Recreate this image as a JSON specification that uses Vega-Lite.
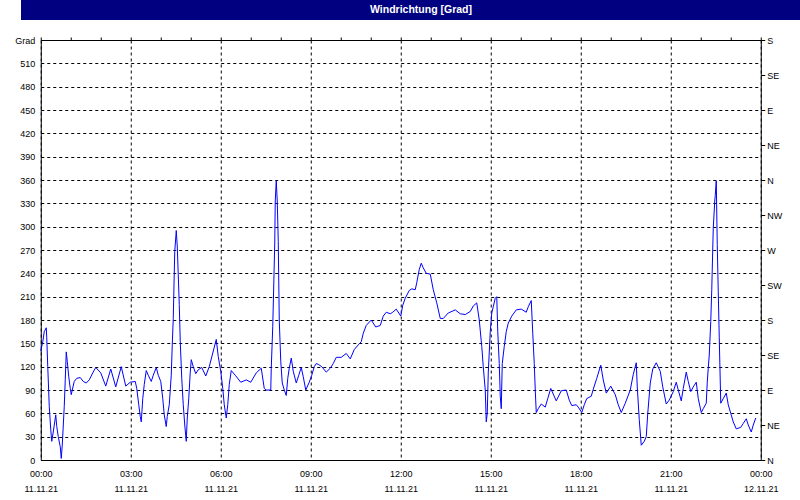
{
  "$schema": "https://vega.github.io/schema/vega-lite/v6.json",
  "background": "white",
  "padding": 0,
  "spacing": 15,
  "center": true,
  "config": {
    "view": {"stroke": null},
    "axis": {"labelFont": "Liberation Sans", "labelFontSize": 9, "labelColor": "black", "domain": false}
  },
  "vconcat": [
    {
      "width": 800,
      "height": 20,
      "data": {"values": [{"title": "Windrichtung [Grad]"}]},
      "layer": [
        {"mark": {"type": "rect", "color": "#000080"}, "encoding": {}},
        {"mark": {"type": "text", "color": "white", "font": "Liberation Sans", "fontSize": 10.5, "fontWeight": "bold", "align": "center", "baseline": "middle"},
         "encoding": {"text": {"field": "title"}}}
      ]
    },
    {
      "width": 720,
      "height": 420,
      "view": {"stroke": "black", "strokeWidth": 1},
      "data": {"values": [
        {"t": "2021-11-11T00:00", "v": 140}, {"t": "2021-11-11T00:04", "v": 152}, {"t": "2021-11-11T00:07", "v": 165}, {"t": "2021-11-11T00:11", "v": 170},
        {"t": "2021-11-11T00:12", "v": 157}, {"t": "2021-11-11T00:14", "v": 120}, {"t": "2021-11-11T00:17", "v": 69}, {"t": "2021-11-11T00:20", "v": 39},
        {"t": "2021-11-11T00:22", "v": 24}, {"t": "2021-11-11T00:25", "v": 36}, {"t": "2021-11-11T00:30", "v": 58}, {"t": "2021-11-11T00:32", "v": 43},
        {"t": "2021-11-11T00:35", "v": 30}, {"t": "2021-11-11T00:39", "v": 17}, {"t": "2021-11-11T00:41", "v": 2}, {"t": "2021-11-11T00:43", "v": 19},
        {"t": "2021-11-11T00:47", "v": 69}, {"t": "2021-11-11T00:49", "v": 103}, {"t": "2021-11-11T00:51", "v": 139}, {"t": "2021-11-11T00:53", "v": 127},
        {"t": "2021-11-11T00:56", "v": 107}, {"t": "2021-11-11T00:59", "v": 92}, {"t": "2021-11-11T01:01", "v": 84}, {"t": "2021-11-11T01:03", "v": 90},
        {"t": "2021-11-11T01:07", "v": 101}, {"t": "2021-11-11T01:12", "v": 105}, {"t": "2021-11-11T01:19", "v": 106}, {"t": "2021-11-11T01:25", "v": 101},
        {"t": "2021-11-11T01:31", "v": 99}, {"t": "2021-11-11T01:37", "v": 103}, {"t": "2021-11-11T01:44", "v": 112}, {"t": "2021-11-11T01:50", "v": 119},
        {"t": "2021-11-11T02:00", "v": 112}, {"t": "2021-11-11T02:10", "v": 95}, {"t": "2021-11-11T02:20", "v": 117}, {"t": "2021-11-11T02:30", "v": 94},
        {"t": "2021-11-11T02:41", "v": 120}, {"t": "2021-11-11T02:50", "v": 95}, {"t": "2021-11-11T02:59", "v": 100}, {"t": "2021-11-11T03:09", "v": 101},
        {"t": "2021-11-11T03:12", "v": 92}, {"t": "2021-11-11T03:16", "v": 71}, {"t": "2021-11-11T03:19", "v": 56}, {"t": "2021-11-11T03:21", "v": 49},
        {"t": "2021-11-11T03:24", "v": 79}, {"t": "2021-11-11T03:27", "v": 97}, {"t": "2021-11-11T03:31", "v": 115}, {"t": "2021-11-11T03:35", "v": 109},
        {"t": "2021-11-11T03:41", "v": 101}, {"t": "2021-11-11T03:45", "v": 109}, {"t": "2021-11-11T03:51", "v": 119}, {"t": "2021-11-11T03:55", "v": 109},
        {"t": "2021-11-11T04:00", "v": 101}, {"t": "2021-11-11T04:04", "v": 79}, {"t": "2021-11-11T04:07", "v": 58}, {"t": "2021-11-11T04:11", "v": 43},
        {"t": "2021-11-11T04:13", "v": 56}, {"t": "2021-11-11T04:17", "v": 71}, {"t": "2021-11-11T04:21", "v": 109}, {"t": "2021-11-11T04:23", "v": 148},
        {"t": "2021-11-11T04:25", "v": 182}, {"t": "2021-11-11T04:28", "v": 268}, {"t": "2021-11-11T04:31", "v": 295}, {"t": "2021-11-11T04:33", "v": 275},
        {"t": "2021-11-11T04:35", "v": 238}, {"t": "2021-11-11T04:37", "v": 200}, {"t": "2021-11-11T04:39", "v": 152}, {"t": "2021-11-11T04:42", "v": 105},
        {"t": "2021-11-11T04:45", "v": 71}, {"t": "2021-11-11T04:48", "v": 45}, {"t": "2021-11-11T04:51", "v": 24}, {"t": "2021-11-11T04:53", "v": 54},
        {"t": "2021-11-11T04:56", "v": 79}, {"t": "2021-11-11T04:59", "v": 113}, {"t": "2021-11-11T05:01", "v": 129}, {"t": "2021-11-11T05:05", "v": 120},
        {"t": "2021-11-11T05:10", "v": 111}, {"t": "2021-11-11T05:15", "v": 116}, {"t": "2021-11-11T05:22", "v": 119}, {"t": "2021-11-11T05:30", "v": 108},
        {"t": "2021-11-11T05:37", "v": 120}, {"t": "2021-11-11T05:43", "v": 135}, {"t": "2021-11-11T05:51", "v": 155}, {"t": "2021-11-11T05:55", "v": 133},
        {"t": "2021-11-11T06:00", "v": 114}, {"t": "2021-11-11T06:04", "v": 92}, {"t": "2021-11-11T06:07", "v": 71}, {"t": "2021-11-11T06:11", "v": 54},
        {"t": "2021-11-11T06:14", "v": 71}, {"t": "2021-11-11T06:17", "v": 97}, {"t": "2021-11-11T06:21", "v": 115}, {"t": "2021-11-11T06:29", "v": 109},
        {"t": "2021-11-11T06:40", "v": 100}, {"t": "2021-11-11T06:51", "v": 103}, {"t": "2021-11-11T07:00", "v": 100}, {"t": "2021-11-11T07:11", "v": 112},
        {"t": "2021-11-11T07:21", "v": 118}, {"t": "2021-11-11T07:27", "v": 92}, {"t": "2021-11-11T07:31", "v": 90}, {"t": "2021-11-11T07:40", "v": 90},
        {"t": "2021-11-11T07:41", "v": 118}, {"t": "2021-11-11T07:44", "v": 172}, {"t": "2021-11-11T07:46", "v": 225}, {"t": "2021-11-11T07:48", "v": 279},
        {"t": "2021-11-11T07:49", "v": 333}, {"t": "2021-11-11T07:51", "v": 359}, {"t": "2021-11-11T07:53", "v": 333}, {"t": "2021-11-11T07:55", "v": 281},
        {"t": "2021-11-11T07:56", "v": 230}, {"t": "2021-11-11T07:57", "v": 180}, {"t": "2021-11-11T08:00", "v": 127}, {"t": "2021-11-11T08:03", "v": 99},
        {"t": "2021-11-11T08:07", "v": 90}, {"t": "2021-11-11T08:11", "v": 83}, {"t": "2021-11-11T08:14", "v": 105}, {"t": "2021-11-11T08:17", "v": 118},
        {"t": "2021-11-11T08:21", "v": 131}, {"t": "2021-11-11T08:25", "v": 114}, {"t": "2021-11-11T08:31", "v": 99}, {"t": "2021-11-11T08:36", "v": 109},
        {"t": "2021-11-11T08:41", "v": 119}, {"t": "2021-11-11T08:45", "v": 107}, {"t": "2021-11-11T08:50", "v": 90}, {"t": "2021-11-11T08:57", "v": 100},
        {"t": "2021-11-11T09:02", "v": 109}, {"t": "2021-11-11T09:07", "v": 120}, {"t": "2021-11-11T09:11", "v": 124}, {"t": "2021-11-11T09:15", "v": 123},
        {"t": "2021-11-11T09:22", "v": 120}, {"t": "2021-11-11T09:31", "v": 113}, {"t": "2021-11-11T09:39", "v": 118}, {"t": "2021-11-11T09:45", "v": 124},
        {"t": "2021-11-11T09:51", "v": 132}, {"t": "2021-11-11T10:01", "v": 132}, {"t": "2021-11-11T10:11", "v": 137}, {"t": "2021-11-11T10:19", "v": 130},
        {"t": "2021-11-11T10:27", "v": 142}, {"t": "2021-11-11T10:35", "v": 148}, {"t": "2021-11-11T10:41", "v": 152}, {"t": "2021-11-11T10:45", "v": 163},
        {"t": "2021-11-11T10:51", "v": 173}, {"t": "2021-11-11T11:01", "v": 180}, {"t": "2021-11-11T11:10", "v": 171}, {"t": "2021-11-11T11:19", "v": 173},
        {"t": "2021-11-11T11:25", "v": 185}, {"t": "2021-11-11T11:31", "v": 190}, {"t": "2021-11-11T11:39", "v": 188}, {"t": "2021-11-11T11:44", "v": 190},
        {"t": "2021-11-11T11:51", "v": 194}, {"t": "2021-11-11T12:00", "v": 185}, {"t": "2021-11-11T12:04", "v": 199}, {"t": "2021-11-11T12:09", "v": 208},
        {"t": "2021-11-11T12:17", "v": 218}, {"t": "2021-11-11T12:22", "v": 220}, {"t": "2021-11-11T12:29", "v": 219}, {"t": "2021-11-11T12:32", "v": 228},
        {"t": "2021-11-11T12:37", "v": 245}, {"t": "2021-11-11T12:41", "v": 253}, {"t": "2021-11-11T12:45", "v": 247}, {"t": "2021-11-11T12:51", "v": 240},
        {"t": "2021-11-11T12:59", "v": 239}, {"t": "2021-11-11T13:05", "v": 219}, {"t": "2021-11-11T13:12", "v": 202}, {"t": "2021-11-11T13:19", "v": 182},
        {"t": "2021-11-11T13:25", "v": 182}, {"t": "2021-11-11T13:35", "v": 189}, {"t": "2021-11-11T13:49", "v": 193}, {"t": "2021-11-11T13:59", "v": 188},
        {"t": "2021-11-11T14:09", "v": 187}, {"t": "2021-11-11T14:19", "v": 191}, {"t": "2021-11-11T14:25", "v": 198}, {"t": "2021-11-11T14:32", "v": 202},
        {"t": "2021-11-11T14:37", "v": 180}, {"t": "2021-11-11T14:42", "v": 146}, {"t": "2021-11-11T14:45", "v": 120}, {"t": "2021-11-11T14:49", "v": 90},
        {"t": "2021-11-11T14:51", "v": 49}, {"t": "2021-11-11T14:53", "v": 60}, {"t": "2021-11-11T14:55", "v": 112}, {"t": "2021-11-11T14:59", "v": 165},
        {"t": "2021-11-11T15:02", "v": 189}, {"t": "2021-11-11T15:05", "v": 197}, {"t": "2021-11-11T15:09", "v": 208}, {"t": "2021-11-11T15:12", "v": 210},
        {"t": "2021-11-11T15:14", "v": 165}, {"t": "2021-11-11T15:17", "v": 124}, {"t": "2021-11-11T15:19", "v": 82}, {"t": "2021-11-11T15:21", "v": 66},
        {"t": "2021-11-11T15:23", "v": 124}, {"t": "2021-11-11T15:27", "v": 146}, {"t": "2021-11-11T15:31", "v": 165}, {"t": "2021-11-11T15:35", "v": 176},
        {"t": "2021-11-11T15:42", "v": 185}, {"t": "2021-11-11T15:51", "v": 193}, {"t": "2021-11-11T16:01", "v": 194}, {"t": "2021-11-11T16:11", "v": 190},
        {"t": "2021-11-11T16:15", "v": 197}, {"t": "2021-11-11T16:21", "v": 205}, {"t": "2021-11-11T16:24", "v": 163}, {"t": "2021-11-11T16:27", "v": 124},
        {"t": "2021-11-11T16:29", "v": 90}, {"t": "2021-11-11T16:31", "v": 61}, {"t": "2021-11-11T16:35", "v": 66}, {"t": "2021-11-11T16:41", "v": 72},
        {"t": "2021-11-11T16:49", "v": 68}, {"t": "2021-11-11T16:54", "v": 79}, {"t": "2021-11-11T17:00", "v": 92}, {"t": "2021-11-11T17:11", "v": 76},
        {"t": "2021-11-11T17:21", "v": 89}, {"t": "2021-11-11T17:31", "v": 90}, {"t": "2021-11-11T17:37", "v": 77}, {"t": "2021-11-11T17:42", "v": 70},
        {"t": "2021-11-11T17:51", "v": 71}, {"t": "2021-11-11T17:55", "v": 68}, {"t": "2021-11-11T18:02", "v": 61}, {"t": "2021-11-11T18:07", "v": 71},
        {"t": "2021-11-11T18:12", "v": 79}, {"t": "2021-11-11T18:21", "v": 82}, {"t": "2021-11-11T18:25", "v": 91}, {"t": "2021-11-11T18:32", "v": 105},
        {"t": "2021-11-11T18:40", "v": 122}, {"t": "2021-11-11T18:45", "v": 103}, {"t": "2021-11-11T18:51", "v": 86}, {"t": "2021-11-11T18:55", "v": 90},
        {"t": "2021-11-11T19:00", "v": 95}, {"t": "2021-11-11T19:09", "v": 84}, {"t": "2021-11-11T19:15", "v": 71}, {"t": "2021-11-11T19:21", "v": 61},
        {"t": "2021-11-11T19:29", "v": 73}, {"t": "2021-11-11T19:39", "v": 90}, {"t": "2021-11-11T19:45", "v": 110}, {"t": "2021-11-11T19:51", "v": 125},
        {"t": "2021-11-11T19:53", "v": 94}, {"t": "2021-11-11T19:57", "v": 52}, {"t": "2021-11-11T20:01", "v": 19}, {"t": "2021-11-11T20:07", "v": 24},
        {"t": "2021-11-11T20:11", "v": 30}, {"t": "2021-11-11T20:14", "v": 60}, {"t": "2021-11-11T20:19", "v": 99}, {"t": "2021-11-11T20:24", "v": 117},
        {"t": "2021-11-11T20:31", "v": 125}, {"t": "2021-11-11T20:39", "v": 114}, {"t": "2021-11-11T20:44", "v": 94}, {"t": "2021-11-11T20:51", "v": 72},
        {"t": "2021-11-11T20:57", "v": 77}, {"t": "2021-11-11T21:05", "v": 88}, {"t": "2021-11-11T21:11", "v": 100}, {"t": "2021-11-11T21:15", "v": 90},
        {"t": "2021-11-11T21:21", "v": 76}, {"t": "2021-11-11T21:25", "v": 92}, {"t": "2021-11-11T21:31", "v": 113}, {"t": "2021-11-11T21:35", "v": 101},
        {"t": "2021-11-11T21:40", "v": 88}, {"t": "2021-11-11T21:45", "v": 94}, {"t": "2021-11-11T21:51", "v": 100}, {"t": "2021-11-11T21:55", "v": 79},
        {"t": "2021-11-11T22:01", "v": 61}, {"t": "2021-11-11T22:05", "v": 66}, {"t": "2021-11-11T22:11", "v": 73}, {"t": "2021-11-11T22:13", "v": 100},
        {"t": "2021-11-11T22:15", "v": 118}, {"t": "2021-11-11T22:17", "v": 135}, {"t": "2021-11-11T22:20", "v": 178}, {"t": "2021-11-11T22:22", "v": 219},
        {"t": "2021-11-11T22:25", "v": 298}, {"t": "2021-11-11T22:28", "v": 333}, {"t": "2021-11-11T22:29", "v": 340}, {"t": "2021-11-11T22:31", "v": 359},
        {"t": "2021-11-11T22:33", "v": 277}, {"t": "2021-11-11T22:35", "v": 217}, {"t": "2021-11-11T22:37", "v": 157}, {"t": "2021-11-11T22:40", "v": 73},
        {"t": "2021-11-11T22:45", "v": 79}, {"t": "2021-11-11T22:51", "v": 86}, {"t": "2021-11-11T22:55", "v": 71}, {"t": "2021-11-11T23:00", "v": 60},
        {"t": "2021-11-11T23:05", "v": 49}, {"t": "2021-11-11T23:11", "v": 40}, {"t": "2021-11-11T23:20", "v": 42}, {"t": "2021-11-11T23:25", "v": 47},
        {"t": "2021-11-11T23:31", "v": 53}, {"t": "2021-11-11T23:35", "v": 45}, {"t": "2021-11-11T23:41", "v": 36}, {"t": "2021-11-11T23:45", "v": 45},
        {"t": "2021-11-11T23:50", "v": 54}
      ]},
      "layer": [
        {
          "mark": {"type": "line", "color": "#0000ff", "strokeWidth": 1},
          "encoding": {
            "x": {"field": "t", "type": "temporal",
              "scale": {"domain": [{"year": 2021, "month": 11, "date": 11, "hours": 0}, {"year": 2021, "month": 11, "date": 12, "hours": 0}], "nice": false},
              "axis": {"title": null,
                "values": [
                  {"year": 2021, "month": 11, "date": 11, "hours": 0}, {"year": 2021, "month": 11, "date": 11, "hours": 3},
                  {"year": 2021, "month": 11, "date": 11, "hours": 6}, {"year": 2021, "month": 11, "date": 11, "hours": 9},
                  {"year": 2021, "month": 11, "date": 11, "hours": 12}, {"year": 2021, "month": 11, "date": 11, "hours": 15},
                  {"year": 2021, "month": 11, "date": 11, "hours": 18}, {"year": 2021, "month": 11, "date": 11, "hours": 21},
                  {"year": 2021, "month": 11, "date": 12, "hours": 0}],
                "grid": true, "gridColor": "black", "gridDash": [3, 3], "gridOpacity": 1, "gridWidth": 1,
                "ticks": false, "labelPadding": 9, "labelFlush": false, "labelOverlap": false, "labelLineHeight": 15,
                "labelExpr": "[timeFormat(datum.value, '%H:%M'), timeFormat(datum.value, '%d.%m.%y')]"}},
            "y": {"field": "v", "type": "quantitative",
              "scale": {"domain": [0, 540], "nice": false},
              "axis": {"title": null, "orient": "left", "values": [0, 30, 60, 90, 120, 150, 180, 210, 240, 270, 300, 330, 360, 390, 420, 450, 480, 510, 540],
                "grid": true, "gridColor": "black", "gridDash": [3, 3], "gridOpacity": 1, "gridWidth": 1,
                "ticks": false, "labelPadding": 6, "minExtent": 40, "maxExtent": 40, "labelFlush": false, "labelOverlap": false,
                "labelExpr": "datum.value == 540 ? 'Grad' : datum.label"}}
          }
        },
        {
          "mark": {"type": "line", "opacity": 0},
          "encoding": {
            "x": {"field": "t", "type": "temporal",
              "axis": {"title": null, "tickCount": 24, "grid": false, "labels": false, "ticks": true, "tickSize": 3, "tickColor": "black", "tickWidth": 1}},
            "y": {"field": "v", "type": "quantitative",
              "axis": {"title": null, "orient": "right", "values": [0, 45, 90, 135, 180, 225, 270, 315, 360, 405, 450, 495, 540],
                "grid": false, "ticks": true, "tickSize": 4, "tickColor": "black", "labelPadding": 2, "minExtent": 40, "maxExtent": 40, "labelFlush": false, "labelOverlap": false,
                "labelExpr": "['N','NE','E','SE','S','SW','W','NW'][(datum.value / 45) % 8]"}}
          }
        }
      ],
      "resolve": {"axis": {"x": "independent", "y": "independent"}}
    }
  ]
}
